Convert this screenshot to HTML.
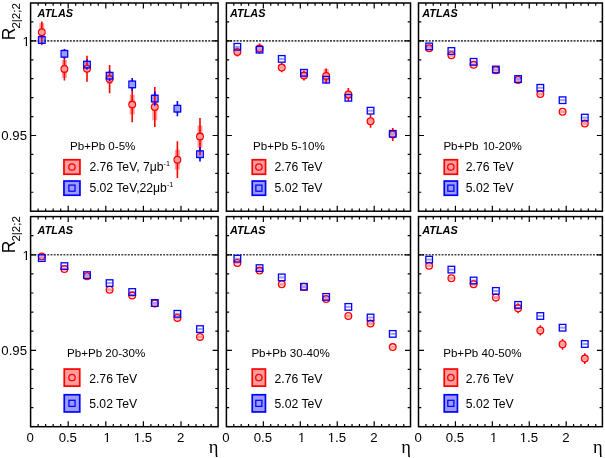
<!DOCTYPE html>
<html><head><meta charset="utf-8"><style>
html,body{margin:0;padding:0;background:#fff;}
body{width:605px;height:458px;overflow:hidden;}
svg{display:block;will-change:transform;}
text{font-family:"Liberation Sans",sans-serif;fill:#000;}
.atlas{font-weight:bold;font-style:italic;font-size:10.9px;}
.leg{font-size:11.6px;}
.leg2{font-size:12.2px;}
.sup{font-size:7.2px;}
.tick{font-size:13.2px;}
.ytitle{font-size:17.5px;}
.sub{font-size:11.6px;}
.eta{font-family:"Liberation Serif",serif;font-size:18.5px;}
</style></head><body>
<svg width="605" height="458" viewBox="0 0 605 458">
<rect width="605" height="458" fill="#fff"/>
<path d="M38.12 211.2v-2.8M38.12 3v2.8M45.64 211.2v-2.8M45.64 3v2.8M53.16 211.2v-2.8M53.16 3v2.8M60.68 211.2v-2.8M60.68 3v2.8M68.2 211.2v-5.5M68.2 3v5.5M75.72 211.2v-2.8M75.72 3v2.8M83.24 211.2v-2.8M83.24 3v2.8M90.76 211.2v-2.8M90.76 3v2.8M98.28 211.2v-2.8M98.28 3v2.8M105.8 211.2v-5.5M105.8 3v5.5M113.32 211.2v-2.8M113.32 3v2.8M120.84 211.2v-2.8M120.84 3v2.8M128.36 211.2v-2.8M128.36 3v2.8M135.88 211.2v-2.8M135.88 3v2.8M143.4 211.2v-5.5M143.4 3v5.5M150.92 211.2v-2.8M150.92 3v2.8M158.44 211.2v-2.8M158.44 3v2.8M165.96 211.2v-2.8M165.96 3v2.8M173.48 211.2v-2.8M173.48 3v2.8M181 211.2v-5.5M181 3v5.5M188.52 211.2v-2.8M188.52 3v2.8M196.04 211.2v-2.8M196.04 3v2.8M203.56 211.2v-2.8M203.56 3v2.8M211.08 211.2v-2.8M211.08 3v2.8M30.6 192.27h2.8M218.1 192.27h-2.8M30.6 173.35h2.8M218.1 173.35h-2.8M30.6 154.42h2.8M218.1 154.42h-2.8M30.6 135.49h5.5M218.1 135.49h-5.5M30.6 116.56h2.8M218.1 116.56h-2.8M30.6 97.64h2.8M218.1 97.64h-2.8M30.6 78.71h2.8M218.1 78.71h-2.8M30.6 59.78h2.8M218.1 59.78h-2.8M30.6 40.85h5.5M218.1 40.85h-5.5M30.6 21.93h2.8M218.1 21.93h-2.8" stroke="#000" stroke-width="1.2" fill="none"/>
<line x1="31.2" y1="40.85" x2="217.1" y2="40.85" stroke="#000" stroke-width="1.6" stroke-dasharray="1.9 1.32" opacity="0.75"/>
<rect x="30.6" y="3" width="187.5" height="208.2" fill="none" stroke="#000" stroke-width="1.5"/>
<rect x="39.3" y="23.2" width="5" height="18" fill="#ff9c9c"/>
<rect x="61.9" y="60" width="5" height="17.8" fill="#ff9c9c"/>
<rect x="84.5" y="65.8" width="5" height="6" fill="#ff9c9c"/>
<rect x="107.1" y="74.1" width="5" height="10" fill="#ff9c9c"/>
<rect x="129.7" y="94.8" width="5" height="19.6" fill="#ff9c9c"/>
<rect x="152.29" y="93.8" width="5" height="26.4" fill="#ff9c9c"/>
<rect x="174.89" y="149.7" width="5" height="20" fill="#ff9c9c"/>
<rect x="197.49" y="125.6" width="5" height="22" fill="#ff9c9c"/>
<rect x="39.3" y="36" width="5" height="8" fill="#9c9cff"/>
<rect x="61.9" y="49.8" width="5" height="8" fill="#9c9cff"/>
<rect x="84.5" y="61.1" width="5" height="7" fill="#9c9cff"/>
<rect x="107.1" y="72.2" width="5" height="7" fill="#9c9cff"/>
<rect x="129.7" y="80.4" width="5" height="8" fill="#9c9cff"/>
<rect x="152.29" y="94.6" width="5" height="8" fill="#9c9cff"/>
<rect x="174.89" y="104.7" width="5" height="8" fill="#9c9cff"/>
<rect x="197.49" y="150.2" width="5" height="8" fill="#9c9cff"/>
<path d="M41.8 21.5V29M41.8 35.4V42.9" stroke="#ff0000" stroke-width="1.6"/>
<circle cx="41.8" cy="32.2" r="3.35" fill="none" stroke="#ff0000" stroke-width="1.3"/>
<path d="M64.4 57.4V65.7M64.4 72.1V80.4" stroke="#ff0000" stroke-width="1.6"/>
<circle cx="64.4" cy="68.9" r="3.35" fill="none" stroke="#ff0000" stroke-width="1.3"/>
<path d="M87 55.8V65.6M87 72V81.8" stroke="#ff0000" stroke-width="1.6"/>
<circle cx="87" cy="68.8" r="3.35" fill="none" stroke="#ff0000" stroke-width="1.3"/>
<path d="M109.6 64.9V75.9M109.6 82.3V93.3" stroke="#ff0000" stroke-width="1.6"/>
<circle cx="109.6" cy="79.1" r="3.35" fill="none" stroke="#ff0000" stroke-width="1.3"/>
<path d="M132.2 87V101.4M132.2 107.8V122.2" stroke="#ff0000" stroke-width="1.6"/>
<circle cx="132.2" cy="104.6" r="3.35" fill="none" stroke="#ff0000" stroke-width="1.3"/>
<path d="M154.79 86.9V103.8M154.79 110.2V127.1" stroke="#ff0000" stroke-width="1.6"/>
<circle cx="154.79" cy="107" r="3.35" fill="none" stroke="#ff0000" stroke-width="1.3"/>
<path d="M177.39 141.3V156.5M177.39 162.9V178.1" stroke="#ff0000" stroke-width="1.6"/>
<circle cx="177.39" cy="159.7" r="3.35" fill="none" stroke="#ff0000" stroke-width="1.3"/>
<path d="M199.99 117.9V133.4M199.99 139.8V155.3" stroke="#ff0000" stroke-width="1.6"/>
<circle cx="199.99" cy="136.6" r="3.35" fill="none" stroke="#ff0000" stroke-width="1.3"/>
<path d="M41.8 35.2V36.9M41.8 43.1V44.8" stroke="#0000ff" stroke-width="1.6"/>
<rect x="38.5" y="36.7" width="6.6" height="6.6" fill="none" stroke="#0000ff" stroke-width="1.3"/>
<path d="M64.4 48.9V50.7M64.4 56.9V58.7" stroke="#0000ff" stroke-width="1.6"/>
<rect x="61.1" y="50.5" width="6.6" height="6.6" fill="none" stroke="#0000ff" stroke-width="1.3"/>
<path d="M87 59.6V61.5M87 67.7V69.6" stroke="#0000ff" stroke-width="1.6"/>
<rect x="83.7" y="61.3" width="6.6" height="6.6" fill="none" stroke="#0000ff" stroke-width="1.3"/>
<path d="M109.6 70.5V72.6M109.6 78.8V80.9" stroke="#0000ff" stroke-width="1.6"/>
<rect x="106.3" y="72.4" width="6.6" height="6.6" fill="none" stroke="#0000ff" stroke-width="1.3"/>
<path d="M132.2 78.1V81.3M132.2 87.5V90.7" stroke="#0000ff" stroke-width="1.6"/>
<rect x="128.9" y="81.1" width="6.6" height="6.6" fill="none" stroke="#0000ff" stroke-width="1.3"/>
<path d="M154.79 91.4V95.5M154.79 101.7V105.8" stroke="#0000ff" stroke-width="1.6"/>
<rect x="151.49" y="95.3" width="6.6" height="6.6" fill="none" stroke="#0000ff" stroke-width="1.3"/>
<path d="M177.39 101.1V105.6M177.39 111.8V116.3" stroke="#0000ff" stroke-width="1.6"/>
<rect x="174.09" y="105.4" width="6.6" height="6.6" fill="none" stroke="#0000ff" stroke-width="1.3"/>
<path d="M199.99 147V151.1M199.99 157.3V161.4" stroke="#0000ff" stroke-width="1.6"/>
<rect x="196.69" y="150.9" width="6.6" height="6.6" fill="none" stroke="#0000ff" stroke-width="1.3"/>
<path d="M233.79 211.2v-2.8M233.79 3v2.8M241.18 211.2v-2.8M241.18 3v2.8M248.57 211.2v-2.8M248.57 3v2.8M255.96 211.2v-2.8M255.96 3v2.8M263.35 211.2v-5.5M263.35 3v5.5M270.74 211.2v-2.8M270.74 3v2.8M278.13 211.2v-2.8M278.13 3v2.8M285.52 211.2v-2.8M285.52 3v2.8M292.91 211.2v-2.8M292.91 3v2.8M300.3 211.2v-5.5M300.3 3v5.5M307.69 211.2v-2.8M307.69 3v2.8M315.08 211.2v-2.8M315.08 3v2.8M322.47 211.2v-2.8M322.47 3v2.8M329.86 211.2v-2.8M329.86 3v2.8M337.25 211.2v-5.5M337.25 3v5.5M344.64 211.2v-2.8M344.64 3v2.8M352.03 211.2v-2.8M352.03 3v2.8M359.42 211.2v-2.8M359.42 3v2.8M366.81 211.2v-2.8M366.81 3v2.8M374.2 211.2v-5.5M374.2 3v5.5M381.59 211.2v-2.8M381.59 3v2.8M388.98 211.2v-2.8M388.98 3v2.8M396.37 211.2v-2.8M396.37 3v2.8M403.76 211.2v-2.8M403.76 3v2.8M226.4 192.27h2.8M410.5 192.27h-2.8M226.4 173.35h2.8M410.5 173.35h-2.8M226.4 154.42h2.8M410.5 154.42h-2.8M226.4 135.49h5.5M410.5 135.49h-5.5M226.4 116.56h2.8M410.5 116.56h-2.8M226.4 97.64h2.8M410.5 97.64h-2.8M226.4 78.71h2.8M410.5 78.71h-2.8M226.4 59.78h2.8M410.5 59.78h-2.8M226.4 40.85h5.5M410.5 40.85h-5.5M226.4 21.93h2.8M410.5 21.93h-2.8" stroke="#000" stroke-width="1.2" fill="none"/>
<line x1="227" y1="40.85" x2="409.5" y2="40.85" stroke="#000" stroke-width="1.6" stroke-dasharray="1.9 1.32" opacity="0.75"/>
<rect x="226.4" y="3" width="184.1" height="208.2" fill="none" stroke="#000" stroke-width="1.5"/>
<rect x="234.85" y="49.4" width="5" height="5" fill="#ff9c9c"/>
<rect x="257.05" y="46.1" width="5" height="5" fill="#ff9c9c"/>
<rect x="279.25" y="65.6" width="5" height="4" fill="#ff9c9c"/>
<rect x="301.45" y="73.1" width="5" height="5" fill="#ff9c9c"/>
<rect x="323.65" y="68.9" width="5" height="14" fill="#ff9c9c"/>
<rect x="345.85" y="91.5" width="5" height="6" fill="#ff9c9c"/>
<rect x="368.05" y="118.7" width="5" height="5" fill="#ff9c9c"/>
<rect x="390.25" y="132" width="5" height="5" fill="#ff9c9c"/>
<rect x="234.85" y="45.8" width="5" height="2" fill="#9c9cff"/>
<rect x="257.05" y="48.7" width="5" height="2" fill="#9c9cff"/>
<rect x="279.25" y="57.9" width="5" height="2" fill="#9c9cff"/>
<rect x="301.45" y="71.8" width="5" height="2" fill="#9c9cff"/>
<rect x="323.65" y="78.7" width="5" height="2" fill="#9c9cff"/>
<rect x="345.85" y="96.8" width="5" height="2" fill="#9c9cff"/>
<rect x="368.05" y="109.7" width="5" height="2" fill="#9c9cff"/>
<rect x="390.25" y="132.8" width="5" height="2" fill="#9c9cff"/>
<path d="M237.35 47.4V48.7M237.35 55.1V56.4" stroke="#ff0000" stroke-width="1.6"/>
<circle cx="237.35" cy="51.9" r="3.35" fill="none" stroke="#ff0000" stroke-width="1.3"/>
<path d="M259.55 43.6V45.4M259.55 51.8V53.6" stroke="#ff0000" stroke-width="1.6"/>
<circle cx="259.55" cy="48.6" r="3.35" fill="none" stroke="#ff0000" stroke-width="1.3"/>
<path d="M281.75 62.9V64.4M281.75 70.8V72.3" stroke="#ff0000" stroke-width="1.6"/>
<circle cx="281.75" cy="67.6" r="3.35" fill="none" stroke="#ff0000" stroke-width="1.3"/>
<path d="M303.95 70.6V72.4M303.95 78.8V80.6" stroke="#ff0000" stroke-width="1.6"/>
<circle cx="303.95" cy="75.6" r="3.35" fill="none" stroke="#ff0000" stroke-width="1.3"/>
<path d="M326.15 68.4V72.7M326.15 79.1V83.4" stroke="#ff0000" stroke-width="1.6"/>
<circle cx="326.15" cy="75.9" r="3.35" fill="none" stroke="#ff0000" stroke-width="1.3"/>
<path d="M348.35 87.9V91.3M348.35 97.7V101.1" stroke="#ff0000" stroke-width="1.6"/>
<circle cx="348.35" cy="94.5" r="3.35" fill="none" stroke="#ff0000" stroke-width="1.3"/>
<path d="M370.55 114.6V118M370.55 124.4V127.8" stroke="#ff0000" stroke-width="1.6"/>
<circle cx="370.55" cy="121.2" r="3.35" fill="none" stroke="#ff0000" stroke-width="1.3"/>
<path d="M392.75 127.9V131.3M392.75 137.7V141.1" stroke="#ff0000" stroke-width="1.6"/>
<circle cx="392.75" cy="134.5" r="3.35" fill="none" stroke="#ff0000" stroke-width="1.3"/>
<rect x="234.05" y="43.5" width="6.6" height="6.6" fill="none" stroke="#0000ff" stroke-width="1.3"/>
<rect x="256.25" y="46.4" width="6.6" height="6.6" fill="none" stroke="#0000ff" stroke-width="1.3"/>
<rect x="278.45" y="55.6" width="6.6" height="6.6" fill="none" stroke="#0000ff" stroke-width="1.3"/>
<rect x="300.65" y="69.5" width="6.6" height="6.6" fill="none" stroke="#0000ff" stroke-width="1.3"/>
<rect x="322.85" y="76.4" width="6.6" height="6.6" fill="none" stroke="#0000ff" stroke-width="1.3"/>
<rect x="345.05" y="94.5" width="6.6" height="6.6" fill="none" stroke="#0000ff" stroke-width="1.3"/>
<rect x="367.25" y="107.4" width="6.6" height="6.6" fill="none" stroke="#0000ff" stroke-width="1.3"/>
<rect x="389.45" y="130.5" width="6.6" height="6.6" fill="none" stroke="#0000ff" stroke-width="1.3"/>
<path d="M425.88 211.2v-2.8M425.88 3v2.8M433.27 211.2v-2.8M433.27 3v2.8M440.65 211.2v-2.8M440.65 3v2.8M448.04 211.2v-2.8M448.04 3v2.8M455.43 211.2v-5.5M455.43 3v5.5M462.81 211.2v-2.8M462.81 3v2.8M470.19 211.2v-2.8M470.19 3v2.8M477.58 211.2v-2.8M477.58 3v2.8M484.97 211.2v-2.8M484.97 3v2.8M492.35 211.2v-5.5M492.35 3v5.5M499.74 211.2v-2.8M499.74 3v2.8M507.12 211.2v-2.8M507.12 3v2.8M514.5 211.2v-2.8M514.5 3v2.8M521.89 211.2v-2.8M521.89 3v2.8M529.27 211.2v-5.5M529.27 3v5.5M536.66 211.2v-2.8M536.66 3v2.8M544.04 211.2v-2.8M544.04 3v2.8M551.43 211.2v-2.8M551.43 3v2.8M558.82 211.2v-2.8M558.82 3v2.8M566.2 211.2v-5.5M566.2 3v5.5M573.59 211.2v-2.8M573.59 3v2.8M580.97 211.2v-2.8M580.97 3v2.8M588.36 211.2v-2.8M588.36 3v2.8M595.74 211.2v-2.8M595.74 3v2.8M418.5 192.27h2.8M602.4 192.27h-2.8M418.5 173.35h2.8M602.4 173.35h-2.8M418.5 154.42h2.8M602.4 154.42h-2.8M418.5 135.49h5.5M602.4 135.49h-5.5M418.5 116.56h2.8M602.4 116.56h-2.8M418.5 97.64h2.8M602.4 97.64h-2.8M418.5 78.71h2.8M602.4 78.71h-2.8M418.5 59.78h2.8M602.4 59.78h-2.8M418.5 40.85h5.5M602.4 40.85h-5.5M418.5 21.93h2.8M602.4 21.93h-2.8" stroke="#000" stroke-width="1.2" fill="none"/>
<line x1="419.1" y1="40.85" x2="601.4" y2="40.85" stroke="#000" stroke-width="1.6" stroke-dasharray="1.9 1.32" opacity="0.75"/>
<rect x="418.5" y="3" width="183.9" height="208.2" fill="none" stroke="#000" stroke-width="1.5"/>
<rect x="426.65" y="46.8" width="5" height="3" fill="#ff9c9c"/>
<rect x="448.88" y="53.8" width="5" height="3" fill="#ff9c9c"/>
<rect x="471.12" y="63.2" width="5" height="3" fill="#ff9c9c"/>
<rect x="493.36" y="68.8" width="5" height="3" fill="#ff9c9c"/>
<rect x="515.59" y="78.4" width="5" height="3" fill="#ff9c9c"/>
<rect x="537.83" y="92.6" width="5" height="3" fill="#ff9c9c"/>
<rect x="560.06" y="110.2" width="5" height="3" fill="#ff9c9c"/>
<rect x="582.3" y="122.1" width="5" height="3" fill="#ff9c9c"/>
<rect x="426.65" y="45.4" width="5" height="2" fill="#9c9cff"/>
<rect x="448.88" y="50" width="5" height="2" fill="#9c9cff"/>
<rect x="471.12" y="60.8" width="5" height="2" fill="#9c9cff"/>
<rect x="493.36" y="68.5" width="5" height="2" fill="#9c9cff"/>
<rect x="515.59" y="78" width="5" height="2" fill="#9c9cff"/>
<rect x="537.83" y="86.8" width="5" height="2" fill="#9c9cff"/>
<rect x="560.06" y="99.2" width="5" height="2" fill="#9c9cff"/>
<rect x="582.3" y="116.6" width="5" height="2" fill="#9c9cff"/>
<circle cx="429.15" cy="48.3" r="3.35" fill="none" stroke="#ff0000" stroke-width="1.3"/>
<circle cx="451.38" cy="55.3" r="3.35" fill="none" stroke="#ff0000" stroke-width="1.3"/>
<circle cx="473.62" cy="64.7" r="3.35" fill="none" stroke="#ff0000" stroke-width="1.3"/>
<circle cx="495.86" cy="70.3" r="3.35" fill="none" stroke="#ff0000" stroke-width="1.3"/>
<circle cx="518.09" cy="79.9" r="3.35" fill="none" stroke="#ff0000" stroke-width="1.3"/>
<circle cx="540.33" cy="94.1" r="3.35" fill="none" stroke="#ff0000" stroke-width="1.3"/>
<circle cx="562.56" cy="111.7" r="3.35" fill="none" stroke="#ff0000" stroke-width="1.3"/>
<circle cx="584.8" cy="123.6" r="3.35" fill="none" stroke="#ff0000" stroke-width="1.3"/>
<rect x="425.85" y="43.1" width="6.6" height="6.6" fill="none" stroke="#0000ff" stroke-width="1.3"/>
<rect x="448.08" y="47.7" width="6.6" height="6.6" fill="none" stroke="#0000ff" stroke-width="1.3"/>
<rect x="470.32" y="58.5" width="6.6" height="6.6" fill="none" stroke="#0000ff" stroke-width="1.3"/>
<rect x="492.56" y="66.2" width="6.6" height="6.6" fill="none" stroke="#0000ff" stroke-width="1.3"/>
<rect x="514.79" y="75.7" width="6.6" height="6.6" fill="none" stroke="#0000ff" stroke-width="1.3"/>
<rect x="537.03" y="84.5" width="6.6" height="6.6" fill="none" stroke="#0000ff" stroke-width="1.3"/>
<rect x="559.26" y="96.9" width="6.6" height="6.6" fill="none" stroke="#0000ff" stroke-width="1.3"/>
<rect x="581.5" y="114.3" width="6.6" height="6.6" fill="none" stroke="#0000ff" stroke-width="1.3"/>
<path d="M38.12 426.7v-2.8M38.12 216.6v2.8M45.64 426.7v-2.8M45.64 216.6v2.8M53.16 426.7v-2.8M53.16 216.6v2.8M60.68 426.7v-2.8M60.68 216.6v2.8M68.2 426.7v-5.5M68.2 216.6v5.5M75.72 426.7v-2.8M75.72 216.6v2.8M83.24 426.7v-2.8M83.24 216.6v2.8M90.76 426.7v-2.8M90.76 216.6v2.8M98.28 426.7v-2.8M98.28 216.6v2.8M105.8 426.7v-5.5M105.8 216.6v5.5M113.32 426.7v-2.8M113.32 216.6v2.8M120.84 426.7v-2.8M120.84 216.6v2.8M128.36 426.7v-2.8M128.36 216.6v2.8M135.88 426.7v-2.8M135.88 216.6v2.8M143.4 426.7v-5.5M143.4 216.6v5.5M150.92 426.7v-2.8M150.92 216.6v2.8M158.44 426.7v-2.8M158.44 216.6v2.8M165.96 426.7v-2.8M165.96 216.6v2.8M173.48 426.7v-2.8M173.48 216.6v2.8M181 426.7v-5.5M181 216.6v5.5M188.52 426.7v-2.8M188.52 216.6v2.8M196.04 426.7v-2.8M196.04 216.6v2.8M203.56 426.7v-2.8M203.56 216.6v2.8M211.08 426.7v-2.8M211.08 216.6v2.8M30.6 407.6h2.8M218.1 407.6h-2.8M30.6 388.5h2.8M218.1 388.5h-2.8M30.6 369.4h2.8M218.1 369.4h-2.8M30.6 350.3h5.5M218.1 350.3h-5.5M30.6 331.2h2.8M218.1 331.2h-2.8M30.6 312.1h2.8M218.1 312.1h-2.8M30.6 293h2.8M218.1 293h-2.8M30.6 273.9h2.8M218.1 273.9h-2.8M30.6 254.8h5.5M218.1 254.8h-5.5M30.6 235.7h2.8M218.1 235.7h-2.8" stroke="#000" stroke-width="1.2" fill="none"/>
<line x1="31.2" y1="254.8" x2="217.1" y2="254.8" stroke="#000" stroke-width="1.6" stroke-dasharray="1.9 1.32" opacity="0.75"/>
<rect x="30.6" y="216.6" width="187.5" height="210.1" fill="none" stroke="#000" stroke-width="1.5"/>
<rect x="39.3" y="255" width="5" height="3" fill="#ff9c9c"/>
<rect x="61.9" y="267.5" width="5" height="3" fill="#ff9c9c"/>
<rect x="84.5" y="274.7" width="5" height="3" fill="#ff9c9c"/>
<rect x="107.1" y="288.3" width="5" height="3" fill="#ff9c9c"/>
<rect x="129.7" y="294.1" width="5" height="3" fill="#ff9c9c"/>
<rect x="152.29" y="302" width="5" height="3" fill="#ff9c9c"/>
<rect x="174.89" y="316.4" width="5" height="3" fill="#ff9c9c"/>
<rect x="197.49" y="335.4" width="5" height="3" fill="#ff9c9c"/>
<rect x="39.3" y="257.1" width="5" height="2" fill="#9c9cff"/>
<rect x="61.9" y="265.1" width="5" height="2" fill="#9c9cff"/>
<rect x="84.5" y="274.1" width="5" height="2" fill="#9c9cff"/>
<rect x="107.1" y="282.1" width="5" height="2" fill="#9c9cff"/>
<rect x="129.7" y="291" width="5" height="2" fill="#9c9cff"/>
<rect x="152.29" y="302" width="5" height="2" fill="#9c9cff"/>
<rect x="174.89" y="312.8" width="5" height="2" fill="#9c9cff"/>
<rect x="197.49" y="328.1" width="5" height="2" fill="#9c9cff"/>
<circle cx="41.8" cy="256.5" r="3.35" fill="none" stroke="#ff0000" stroke-width="1.3"/>
<circle cx="64.4" cy="269" r="3.35" fill="none" stroke="#ff0000" stroke-width="1.3"/>
<circle cx="87" cy="276.2" r="3.35" fill="none" stroke="#ff0000" stroke-width="1.3"/>
<circle cx="109.6" cy="289.8" r="3.35" fill="none" stroke="#ff0000" stroke-width="1.3"/>
<circle cx="132.2" cy="295.6" r="3.35" fill="none" stroke="#ff0000" stroke-width="1.3"/>
<circle cx="154.79" cy="303.5" r="3.35" fill="none" stroke="#ff0000" stroke-width="1.3"/>
<circle cx="177.39" cy="317.9" r="3.35" fill="none" stroke="#ff0000" stroke-width="1.3"/>
<circle cx="199.99" cy="336.9" r="3.35" fill="none" stroke="#ff0000" stroke-width="1.3"/>
<rect x="38.5" y="254.8" width="6.6" height="6.6" fill="none" stroke="#0000ff" stroke-width="1.3"/>
<rect x="61.1" y="262.8" width="6.6" height="6.6" fill="none" stroke="#0000ff" stroke-width="1.3"/>
<rect x="83.7" y="271.8" width="6.6" height="6.6" fill="none" stroke="#0000ff" stroke-width="1.3"/>
<rect x="106.3" y="279.8" width="6.6" height="6.6" fill="none" stroke="#0000ff" stroke-width="1.3"/>
<rect x="128.9" y="288.7" width="6.6" height="6.6" fill="none" stroke="#0000ff" stroke-width="1.3"/>
<rect x="151.49" y="299.7" width="6.6" height="6.6" fill="none" stroke="#0000ff" stroke-width="1.3"/>
<rect x="174.09" y="310.5" width="6.6" height="6.6" fill="none" stroke="#0000ff" stroke-width="1.3"/>
<rect x="196.69" y="325.8" width="6.6" height="6.6" fill="none" stroke="#0000ff" stroke-width="1.3"/>
<path d="M233.79 426.7v-2.8M233.79 216.6v2.8M241.18 426.7v-2.8M241.18 216.6v2.8M248.57 426.7v-2.8M248.57 216.6v2.8M255.96 426.7v-2.8M255.96 216.6v2.8M263.35 426.7v-5.5M263.35 216.6v5.5M270.74 426.7v-2.8M270.74 216.6v2.8M278.13 426.7v-2.8M278.13 216.6v2.8M285.52 426.7v-2.8M285.52 216.6v2.8M292.91 426.7v-2.8M292.91 216.6v2.8M300.3 426.7v-5.5M300.3 216.6v5.5M307.69 426.7v-2.8M307.69 216.6v2.8M315.08 426.7v-2.8M315.08 216.6v2.8M322.47 426.7v-2.8M322.47 216.6v2.8M329.86 426.7v-2.8M329.86 216.6v2.8M337.25 426.7v-5.5M337.25 216.6v5.5M344.64 426.7v-2.8M344.64 216.6v2.8M352.03 426.7v-2.8M352.03 216.6v2.8M359.42 426.7v-2.8M359.42 216.6v2.8M366.81 426.7v-2.8M366.81 216.6v2.8M374.2 426.7v-5.5M374.2 216.6v5.5M381.59 426.7v-2.8M381.59 216.6v2.8M388.98 426.7v-2.8M388.98 216.6v2.8M396.37 426.7v-2.8M396.37 216.6v2.8M403.76 426.7v-2.8M403.76 216.6v2.8M226.4 407.6h2.8M410.5 407.6h-2.8M226.4 388.5h2.8M410.5 388.5h-2.8M226.4 369.4h2.8M410.5 369.4h-2.8M226.4 350.3h5.5M410.5 350.3h-5.5M226.4 331.2h2.8M410.5 331.2h-2.8M226.4 312.1h2.8M410.5 312.1h-2.8M226.4 293h2.8M410.5 293h-2.8M226.4 273.9h2.8M410.5 273.9h-2.8M226.4 254.8h5.5M410.5 254.8h-5.5M226.4 235.7h2.8M410.5 235.7h-2.8" stroke="#000" stroke-width="1.2" fill="none"/>
<line x1="227" y1="254.8" x2="409.5" y2="254.8" stroke="#000" stroke-width="1.6" stroke-dasharray="1.9 1.32" opacity="0.75"/>
<rect x="226.4" y="216.6" width="184.1" height="210.1" fill="none" stroke="#000" stroke-width="1.5"/>
<rect x="234.85" y="261.4" width="5" height="3" fill="#ff9c9c"/>
<rect x="257.05" y="269.1" width="5" height="3" fill="#ff9c9c"/>
<rect x="279.25" y="282.8" width="5" height="3" fill="#ff9c9c"/>
<rect x="301.45" y="285.3" width="5" height="3" fill="#ff9c9c"/>
<rect x="323.65" y="297.5" width="5" height="3" fill="#ff9c9c"/>
<rect x="345.85" y="314.4" width="5" height="3" fill="#ff9c9c"/>
<rect x="368.05" y="322.1" width="5" height="3" fill="#ff9c9c"/>
<rect x="390.25" y="345.6" width="5" height="3" fill="#ff9c9c"/>
<rect x="234.85" y="257.7" width="5" height="2" fill="#9c9cff"/>
<rect x="257.05" y="267.1" width="5" height="2" fill="#9c9cff"/>
<rect x="279.25" y="276.4" width="5" height="2" fill="#9c9cff"/>
<rect x="301.45" y="285.8" width="5" height="2" fill="#9c9cff"/>
<rect x="323.65" y="295.9" width="5" height="2" fill="#9c9cff"/>
<rect x="345.85" y="305.9" width="5" height="2" fill="#9c9cff"/>
<rect x="368.05" y="316.5" width="5" height="2" fill="#9c9cff"/>
<rect x="390.25" y="332.9" width="5" height="2" fill="#9c9cff"/>
<circle cx="237.35" cy="262.9" r="3.35" fill="none" stroke="#ff0000" stroke-width="1.3"/>
<circle cx="259.55" cy="270.6" r="3.35" fill="none" stroke="#ff0000" stroke-width="1.3"/>
<circle cx="281.75" cy="284.3" r="3.35" fill="none" stroke="#ff0000" stroke-width="1.3"/>
<circle cx="303.95" cy="286.8" r="3.35" fill="none" stroke="#ff0000" stroke-width="1.3"/>
<circle cx="326.15" cy="299" r="3.35" fill="none" stroke="#ff0000" stroke-width="1.3"/>
<circle cx="348.35" cy="315.9" r="3.35" fill="none" stroke="#ff0000" stroke-width="1.3"/>
<circle cx="370.55" cy="323.6" r="3.35" fill="none" stroke="#ff0000" stroke-width="1.3"/>
<circle cx="392.75" cy="347.1" r="3.35" fill="none" stroke="#ff0000" stroke-width="1.3"/>
<rect x="234.05" y="255.4" width="6.6" height="6.6" fill="none" stroke="#0000ff" stroke-width="1.3"/>
<rect x="256.25" y="264.8" width="6.6" height="6.6" fill="none" stroke="#0000ff" stroke-width="1.3"/>
<rect x="278.45" y="274.1" width="6.6" height="6.6" fill="none" stroke="#0000ff" stroke-width="1.3"/>
<rect x="300.65" y="283.5" width="6.6" height="6.6" fill="none" stroke="#0000ff" stroke-width="1.3"/>
<rect x="322.85" y="293.6" width="6.6" height="6.6" fill="none" stroke="#0000ff" stroke-width="1.3"/>
<rect x="345.05" y="303.6" width="6.6" height="6.6" fill="none" stroke="#0000ff" stroke-width="1.3"/>
<rect x="367.25" y="314.2" width="6.6" height="6.6" fill="none" stroke="#0000ff" stroke-width="1.3"/>
<rect x="389.45" y="330.6" width="6.6" height="6.6" fill="none" stroke="#0000ff" stroke-width="1.3"/>
<path d="M425.88 426.7v-2.8M425.88 216.6v2.8M433.27 426.7v-2.8M433.27 216.6v2.8M440.65 426.7v-2.8M440.65 216.6v2.8M448.04 426.7v-2.8M448.04 216.6v2.8M455.43 426.7v-5.5M455.43 216.6v5.5M462.81 426.7v-2.8M462.81 216.6v2.8M470.19 426.7v-2.8M470.19 216.6v2.8M477.58 426.7v-2.8M477.58 216.6v2.8M484.97 426.7v-2.8M484.97 216.6v2.8M492.35 426.7v-5.5M492.35 216.6v5.5M499.74 426.7v-2.8M499.74 216.6v2.8M507.12 426.7v-2.8M507.12 216.6v2.8M514.5 426.7v-2.8M514.5 216.6v2.8M521.89 426.7v-2.8M521.89 216.6v2.8M529.27 426.7v-5.5M529.27 216.6v5.5M536.66 426.7v-2.8M536.66 216.6v2.8M544.04 426.7v-2.8M544.04 216.6v2.8M551.43 426.7v-2.8M551.43 216.6v2.8M558.82 426.7v-2.8M558.82 216.6v2.8M566.2 426.7v-5.5M566.2 216.6v5.5M573.59 426.7v-2.8M573.59 216.6v2.8M580.97 426.7v-2.8M580.97 216.6v2.8M588.36 426.7v-2.8M588.36 216.6v2.8M595.74 426.7v-2.8M595.74 216.6v2.8M418.5 407.6h2.8M602.4 407.6h-2.8M418.5 388.5h2.8M602.4 388.5h-2.8M418.5 369.4h2.8M602.4 369.4h-2.8M418.5 350.3h5.5M602.4 350.3h-5.5M418.5 331.2h2.8M602.4 331.2h-2.8M418.5 312.1h2.8M602.4 312.1h-2.8M418.5 293h2.8M602.4 293h-2.8M418.5 273.9h2.8M602.4 273.9h-2.8M418.5 254.8h5.5M602.4 254.8h-5.5M418.5 235.7h2.8M602.4 235.7h-2.8" stroke="#000" stroke-width="1.2" fill="none"/>
<line x1="419.1" y1="254.8" x2="601.4" y2="254.8" stroke="#000" stroke-width="1.6" stroke-dasharray="1.9 1.32" opacity="0.75"/>
<rect x="418.5" y="216.6" width="183.9" height="210.1" fill="none" stroke="#000" stroke-width="1.5"/>
<rect x="426.65" y="264.2" width="5" height="3" fill="#ff9c9c"/>
<rect x="448.88" y="276.7" width="5" height="3" fill="#ff9c9c"/>
<rect x="471.12" y="282.8" width="5" height="3" fill="#ff9c9c"/>
<rect x="493.36" y="296" width="5" height="3" fill="#ff9c9c"/>
<rect x="515.59" y="306.7" width="5" height="3" fill="#ff9c9c"/>
<rect x="537.83" y="328.4" width="5" height="4" fill="#ff9c9c"/>
<rect x="560.06" y="342.3" width="5" height="4" fill="#ff9c9c"/>
<rect x="582.3" y="356.6" width="5" height="4" fill="#ff9c9c"/>
<rect x="426.65" y="258.6" width="5" height="2" fill="#9c9cff"/>
<rect x="448.88" y="268.6" width="5" height="2" fill="#9c9cff"/>
<rect x="471.12" y="279.5" width="5" height="2" fill="#9c9cff"/>
<rect x="493.36" y="289.9" width="5" height="2" fill="#9c9cff"/>
<rect x="515.59" y="303.9" width="5" height="2" fill="#9c9cff"/>
<rect x="537.83" y="315" width="5" height="2" fill="#9c9cff"/>
<rect x="560.06" y="326.7" width="5" height="2" fill="#9c9cff"/>
<rect x="582.3" y="343" width="5" height="2" fill="#9c9cff"/>
<circle cx="429.15" cy="265.7" r="3.35" fill="none" stroke="#ff0000" stroke-width="1.3"/>
<circle cx="451.38" cy="278.2" r="3.35" fill="none" stroke="#ff0000" stroke-width="1.3"/>
<circle cx="473.62" cy="284.3" r="3.35" fill="none" stroke="#ff0000" stroke-width="1.3"/>
<path d="M495.86 293.5V294.3M495.86 300.7V301.5" stroke="#ff0000" stroke-width="1.6"/>
<circle cx="495.86" cy="297.5" r="3.35" fill="none" stroke="#ff0000" stroke-width="1.3"/>
<path d="M518.09 303.2V305M518.09 311.4V313.2" stroke="#ff0000" stroke-width="1.6"/>
<circle cx="518.09" cy="308.2" r="3.35" fill="none" stroke="#ff0000" stroke-width="1.3"/>
<path d="M540.33 325.2V327.2M540.33 333.6V335.6" stroke="#ff0000" stroke-width="1.6"/>
<circle cx="540.33" cy="330.4" r="3.35" fill="none" stroke="#ff0000" stroke-width="1.3"/>
<path d="M562.56 338.9V341.1M562.56 347.5V349.7" stroke="#ff0000" stroke-width="1.6"/>
<circle cx="562.56" cy="344.3" r="3.35" fill="none" stroke="#ff0000" stroke-width="1.3"/>
<path d="M584.8 353.2V355.4M584.8 361.8V364" stroke="#ff0000" stroke-width="1.6"/>
<circle cx="584.8" cy="358.6" r="3.35" fill="none" stroke="#ff0000" stroke-width="1.3"/>
<rect x="425.85" y="256.3" width="6.6" height="6.6" fill="none" stroke="#0000ff" stroke-width="1.3"/>
<rect x="448.08" y="266.3" width="6.6" height="6.6" fill="none" stroke="#0000ff" stroke-width="1.3"/>
<rect x="470.32" y="277.2" width="6.6" height="6.6" fill="none" stroke="#0000ff" stroke-width="1.3"/>
<rect x="492.56" y="287.6" width="6.6" height="6.6" fill="none" stroke="#0000ff" stroke-width="1.3"/>
<rect x="514.79" y="301.6" width="6.6" height="6.6" fill="none" stroke="#0000ff" stroke-width="1.3"/>
<rect x="537.03" y="312.7" width="6.6" height="6.6" fill="none" stroke="#0000ff" stroke-width="1.3"/>
<rect x="559.26" y="324.4" width="6.6" height="6.6" fill="none" stroke="#0000ff" stroke-width="1.3"/>
<rect x="581.5" y="340.7" width="6.6" height="6.6" fill="none" stroke="#0000ff" stroke-width="1.3"/>
<text x="37.6" y="17" class="atlas">ATLAS</text>
<text x="230" y="17" class="atlas">ATLAS</text>
<text x="422.2" y="17" class="atlas">ATLAS</text>
<text x="37.6" y="233.6" class="atlas">ATLAS</text>
<text x="230" y="233.6" class="atlas">ATLAS</text>
<text x="422.2" y="233.6" class="atlas">ATLAS</text>
<text x="70" y="150.2" class="leg">Pb+Pb 0-5%</text>
<rect x="63.95" y="159.75" width="16" height="14.5" fill="#ff9c9c" stroke="#ff0000" stroke-width="1.7"/>
<circle cx="71.95" cy="167" r="3.2" fill="none" stroke="#ff0000" stroke-width="1.3"/>
<rect x="63.95" y="181.05" width="16" height="14.2" fill="#9c9cff" stroke="#0000ff" stroke-width="1.7"/>
<rect x="68.9" y="185.1" width="6.1" height="6.1" fill="none" stroke="#0000ff" stroke-width="1.25"/>
<text x="89.4" y="171.2" class="leg2">2.76 TeV, 7&#956;b<tspan class="sup" dy="-5.6">-1</tspan></text>
<text x="89.4" y="192.4" class="leg2">5.02 TeV,22&#956;b<tspan class="sup" dy="-5.6">-1</tspan></text>
<text x="253" y="150.2" class="leg">Pb+Pb 5-10%</text>
<path d="M302.16 149.28h2.3v1.62h-2.3z M305.72 149.28h2.42v1.62h-2.42z" fill="#fff"/>
<rect x="252.25" y="159.75" width="13.3" height="14.5" fill="#ff9c9c" stroke="#ff0000" stroke-width="1.7"/>
<circle cx="258.9" cy="167" r="3.2" fill="none" stroke="#ff0000" stroke-width="1.3"/>
<rect x="252.25" y="181.05" width="13.3" height="14.2" fill="#9c9cff" stroke="#0000ff" stroke-width="1.7"/>
<rect x="255.85" y="185.1" width="6.1" height="6.1" fill="none" stroke="#0000ff" stroke-width="1.25"/>
<text x="274.6" y="171.2" class="leg2">2.76 TeV</text>
<text x="274.6" y="192.4" class="leg2">5.02 TeV</text>
<text x="443.4" y="150.2" class="leg">Pb+Pb <tspan dx="0.9">1</tspan><tspan dx="-0.9">0-20%</tspan></text>
<path d="M483.14 149.28h2.3v1.62h-2.3z M486.71 149.28h2.42v1.62h-2.42z" fill="#fff"/>
<rect x="444.25" y="159.75" width="13.2" height="14.5" fill="#ff9c9c" stroke="#ff0000" stroke-width="1.7"/>
<circle cx="450.85" cy="167" r="3.2" fill="none" stroke="#ff0000" stroke-width="1.3"/>
<rect x="444.25" y="181.05" width="13.2" height="14.2" fill="#9c9cff" stroke="#0000ff" stroke-width="1.7"/>
<rect x="447.8" y="185.1" width="6.1" height="6.1" fill="none" stroke="#0000ff" stroke-width="1.25"/>
<text x="465.8" y="171.2" class="leg2">2.76 TeV</text>
<text x="465.8" y="192.4" class="leg2">5.02 TeV</text>
<text x="67" y="357" class="leg">Pb+Pb 20-30%</text>
<rect x="64.25" y="369.05" width="15.5" height="17.1" fill="#ff9c9c" stroke="#ff0000" stroke-width="1.7"/>
<circle cx="72" cy="377.6" r="3.2" fill="none" stroke="#ff0000" stroke-width="1.3"/>
<rect x="64.25" y="394.75" width="15.5" height="17.2" fill="#9c9cff" stroke="#0000ff" stroke-width="1.7"/>
<rect x="68.95" y="400.3" width="6.1" height="6.1" fill="none" stroke="#0000ff" stroke-width="1.25"/>
<text x="89.2" y="383.2" class="leg2">2.76 TeV</text>
<text x="89.2" y="408.4" class="leg2">5.02 TeV</text>
<text x="251.4" y="357" class="leg">Pb+Pb 30-40%</text>
<rect x="252.25" y="369.05" width="13.2" height="17.1" fill="#ff9c9c" stroke="#ff0000" stroke-width="1.7"/>
<circle cx="258.85" cy="377.6" r="3.2" fill="none" stroke="#ff0000" stroke-width="1.3"/>
<rect x="252.25" y="394.75" width="13.2" height="17.2" fill="#9c9cff" stroke="#0000ff" stroke-width="1.7"/>
<rect x="255.8" y="400.3" width="6.1" height="6.1" fill="none" stroke="#0000ff" stroke-width="1.25"/>
<text x="274.6" y="383.2" class="leg2">2.76 TeV</text>
<text x="274.6" y="408.4" class="leg2">5.02 TeV</text>
<text x="443.2" y="357" class="leg">Pb+Pb 40-50%</text>
<rect x="444.25" y="369.05" width="13.2" height="17.1" fill="#ff9c9c" stroke="#ff0000" stroke-width="1.7"/>
<circle cx="450.85" cy="377.6" r="3.2" fill="none" stroke="#ff0000" stroke-width="1.3"/>
<rect x="444.25" y="394.75" width="13.2" height="17.2" fill="#9c9cff" stroke="#0000ff" stroke-width="1.7"/>
<rect x="447.8" y="400.3" width="6.1" height="6.1" fill="none" stroke="#0000ff" stroke-width="1.25"/>
<text x="465.8" y="383.2" class="leg2">2.76 TeV</text>
<text x="465.8" y="408.4" class="leg2">5.02 TeV</text>
<text x="22.5" y="45.55" class="tick">1</text>
<path d="M23 44.52h2.7v1.74h-2.7z M27.11 44.52h2.69v1.74h-2.69z" fill="#fff"/>
<text x="27" y="140.19" class="tick" text-anchor="end">0.95</text>
<text x="22.5" y="259.5" class="tick">1</text>
<path d="M23 258.46h2.7v1.74h-2.7z M27.11 258.46h2.69v1.74h-2.69z" fill="#fff"/>
<text x="27" y="355" class="tick" text-anchor="end">0.95</text>
<text transform="translate(14.9 40.2) rotate(-90)" class="ytitle">R</text>
<text transform="translate(20.4 28.6) rotate(-90)" class="sub">2|2;2</text>
<text transform="translate(14.9 253.2) rotate(-90)" class="ytitle">R</text>
<text transform="translate(20.4 241.6) rotate(-90)" class="sub">2|2;2</text>
<text x="26.53" y="441.6" class="tick">0</text>
<text x="58.63" y="441.6" class="tick">0.5</text>
<text x="103.4" y="441.6" class="tick">1</text>
<path d="M103.9 440.56h2.7v1.74h-2.7z M108.01 440.56h2.69v1.74h-2.69z" fill="#fff"/>
<text x="133.83" y="441.6" class="tick">1.5</text>
<path d="M134.33 440.56h2.7v1.74h-2.7z M138.44 440.56h2.69v1.74h-2.69z" fill="#fff"/>
<text x="176.93" y="441.6" class="tick">2</text>
<text x="208.8" y="452.7" class="eta">&#951;</text>
<text x="222.33" y="441.6" class="tick">0</text>
<text x="253.78" y="441.6" class="tick">0.5</text>
<text x="297.9" y="441.6" class="tick">1</text>
<path d="M298.4 440.56h2.7v1.74h-2.7z M302.51 440.56h2.69v1.74h-2.69z" fill="#fff"/>
<text x="327.68" y="441.6" class="tick">1.5</text>
<path d="M328.18 440.56h2.7v1.74h-2.7z M332.29 440.56h2.69v1.74h-2.69z" fill="#fff"/>
<text x="370.13" y="441.6" class="tick">2</text>
<text x="401.2" y="452.7" class="eta">&#951;</text>
<text x="414.43" y="441.6" class="tick">0</text>
<text x="445.86" y="441.6" class="tick">0.5</text>
<text x="489.95" y="441.6" class="tick">1</text>
<path d="M490.45 440.56h2.7v1.74h-2.7z M494.56 440.56h2.69v1.74h-2.69z" fill="#fff"/>
<text x="519.71" y="441.6" class="tick">1.5</text>
<path d="M520.21 440.56h2.7v1.74h-2.7z M524.31 440.56h2.69v1.74h-2.69z" fill="#fff"/>
<text x="562.13" y="441.6" class="tick">2</text>
<text x="593.1" y="452.7" class="eta">&#951;</text>
</svg>
</body></html>
